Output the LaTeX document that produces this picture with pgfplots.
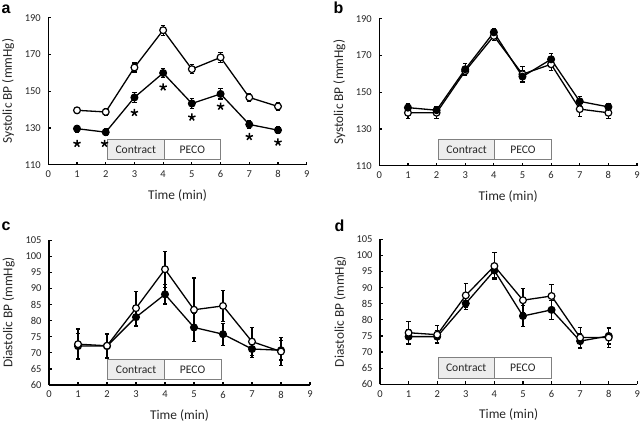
\documentclass[border=0pt]{standalone}
\usepackage{pgfplots}
\pgfplotsset{compat=1.18}
\usepackage{pgfplotstable}
\usepackage{fontspec}
\setmainfont{Carlito}
\setsansfont{Liberation Sans}
\usetikzlibrary{plotmarks}

\definecolor{boxgray}{HTML}{EDEDED}
\definecolor{edgegray}{HTML}{808080}
\definecolor{txt}{HTML}{262626}

% panel a: systolic, group 1
\pgfplotstableread{
x y e
1 139.6 1.6
2 138.7 1.6
3 162.9 2.5
4 183.2 2.7
5 162.0 2.4
6 168.4 2.8
7 146.6 2.3
8 141.7 2.0
}\aopen
\pgfplotstableread{
x y e
1 129.6 1.8
2 127.7 2.0
3 146.6 2.8
4 159.9 2.5
5 143.3 2.8
6 148.5 2.8
7 131.9 2.3
8 128.8 2.0
}\afill
\pgfplotstableread{
x y
1 121.5
1.96 121.5
3 138.3
4 152.2
5 135.8
6 141.7
7 125.2
8 122.2
}\astar
% panel b
\pgfplotstableread{
x y e
1 138.8 3.0
2 138.8 3.0
3 161.5 2.5
4 180.6 2.5
5 159.8 4.0
6 165.2 3.5
7 140.8 4.0
8 138.8 3.0
}\bopen
\pgfplotstableread{
x y e
1 141.6 2.0
2 140.2 2.0
3 162.5 3.0
4 182.6 2.0
5 158.5 3.0
6 167.9 3.0
7 145.0 2.5
8 142.0 2.0
}\bfill
% panel c
\pgfplotstableread{
x y e
1 72.7 4.7
2 72.2 3.9
3 83.9 5.3
4 96.0 5.6
5 83.4 9.9
6 84.6 4.9
7 73.5 4.3
8 70.4 4.4
}\copen
\pgfplotstableread{
x y e
1 72.1 4.0
2 72.1 3.5
3 81.1 3.0
4 88.2 3.0
5 77.9 4.4
6 75.8 3.4
7 71.2 2.6
8 70.8 3.0
}\cfill
% panel d
\pgfplotstableread{
x y e
1 76.0 3.4
2 75.4 2.8
3 87.6 3.6
4 96.7 4.2
5 86.1 3.7
6 87.4 3.6
7 74.5 3.1
8 74.5 3.0
}\dopen
\pgfplotstableread{
x y e
1 74.8 2.3
2 74.8 2.0
3 85.1 1.8
4 95.3 2.3
5 81.2 3.3
6 83.1 2.9
7 73.4 2.2
8 75.0 2.5
}\dfill

\tikzset{
  boxstyle/.style={draw=edgegray, line width=0.8pt},
  boxtext/.style={font=\fontsize{11.6}{13}\selectfont, text=txt},
}

\pgfplotsset{
  bp/.style={
    scale only axis,
    anchor=south west,
    axis x line*=bottom, axis y line*=left,
    axis line style={line width=1.5pt, black},
    tick align=inside,
    major tick length=3pt,
    tick style={line width=1.2pt, black},
    xmin=0, xmax=9, xtick={0,...,9},
    clip=false,
    /pgf/number format/assume math mode=true,
    tick label style={font=\fontsize{10.5}{12}\selectfont, text=txt},
    xticklabel style={yshift=-2.5pt},
    yticklabel style={xshift=-4pt},
    label style={font=\fontsize{13.4}{15}\selectfont, text=txt},
    xlabel={Time (min)},
    xlabel style={at={(axis description cs:0.5,-0.21)}, anchor=center},
    ylabel style={at={(axis description cs:-0.155,0.5)}, anchor=center},
  },
  openser/.style={black, line width=1.3pt, mark=*, mark size=3.4pt,
    mark options={fill=white, draw=black, line width=1.2pt},
    error bars/y dir=both, error bars/y explicit,
    error bars/error bar style={line width=1.2pt, black},
    error bars/error mark options={rotate=90, mark size=2.2pt, line width=1.2pt, black}},
  fillser/.style={black, line width=1.3pt, mark=*, mark size=3.4pt,
    mark options={fill=black, draw=black, line width=1.2pt},
    error bars/y dir=both, error bars/y explicit,
    error bars/error bar style={line width=1.2pt, black},
    error bars/error mark options={rotate=90, mark size=2.2pt, line width=1.2pt, black}},
}

\begin{document}
\begin{tikzpicture}
\useasboundingbox (0,0) rectangle (644pt,423pt);

% ---------- a ----------
\begin{axis}[bp, at={(48.3pt,258.3pt)}, width=258.4pt, height=147pt,
  ymin=110, ymax=190, ytick={110,130,...,190}, ylabel={Systolic BP (mmHg)}]
  \draw[boxstyle, fill=boxgray] (axis cs:2.06,112.9) rectangle (axis cs:4.03,123.8);
  \draw[boxstyle, fill=white] (axis cs:4.03,112.9) rectangle (axis cs:6.0,123.8);
  \node[boxtext] at (axis cs:3.045,118.35) {Contract};
  \node[boxtext] at (axis cs:5.015,118.35) {PECO};
  \addplot[fillser] table[x=x, y=y, y error=e] {\afill};
  \addplot[openser] table[x=x, y=y, y error=e] {\aopen};
  \addplot[only marks, mark=star, mark size=3.8pt, mark options={line width=1.5pt, black}] table[x=x, y=y] {\astar};
\end{axis}

% ---------- b ----------
\begin{axis}[bp, at={(379.3pt,257.3pt)}, width=257.7pt, height=147pt,
  ymin=110, ymax=190, ytick={110,130,...,190}, ylabel={Systolic BP (mmHg)}]
  \draw[boxstyle, fill=boxgray] (axis cs:2.07,113.4) rectangle (axis cs:4.03,124.3);
  \draw[boxstyle, fill=white] (axis cs:4.03,113.4) rectangle (axis cs:6.0,124.3);
  \node[boxtext] at (axis cs:3.05,118.85) {Contract};
  \node[boxtext] at (axis cs:5.015,118.85) {PECO};
  \addplot[openser] table[x=x, y=y, y error=e] {\bopen};
  \addplot[fillser] table[x=x, y=y, y error=e] {\bfill};
\end{axis}

% ---------- c ----------
\begin{axis}[bp, at={(49pt,38pt)}, width=261pt, height=144.7pt,
  ymin=60, ymax=105, ytick={60,65,...,105}, ylabel={Diastolic BP (mmHg)}]
  \draw[boxstyle, fill=boxgray] (axis cs:2.03,61.7) rectangle (axis cs:3.97,67.9);
  \draw[boxstyle, fill=white] (axis cs:3.97,61.7) rectangle (axis cs:5.93,67.9);
  \node[boxtext] at (axis cs:3.0,64.8) {Contract};
  \node[boxtext] at (axis cs:4.95,64.8) {PECO};
  \addplot[fillser] table[x=x, y=y, y error=e] {\cfill};
  \addplot[openser] table[x=x, y=y, y error=e] {\copen};
\end{axis}

% ---------- d ----------
\begin{axis}[bp, at={(380pt,38.7pt)}, width=257.3pt, height=145pt,
  ymin=60, ymax=105, ytick={60,65,...,105}, ylabel={Diastolic BP (mmHg)}]
  \draw[boxstyle, fill=boxgray] (axis cs:2.03,61.9) rectangle (axis cs:4.0,68.3);
  \draw[boxstyle, fill=white] (axis cs:4.0,61.9) rectangle (axis cs:5.99,68.3);
  \node[boxtext] at (axis cs:3.015,65.1) {Contract};
  \node[boxtext] at (axis cs:4.995,65.1) {PECO};
  \addplot[fillser] table[x=x, y=y, y error=e] {\dfill};
  \addplot[openser] table[x=x, y=y, y error=e] {\dopen};
\end{axis}

% panel letters
\node[anchor=base west, inner sep=0, font=\sffamily\bfseries\fontsize{16}{18}\selectfont] at (1.5pt,409.5pt) {a};
\node[anchor=base west, inner sep=0, font=\sffamily\bfseries\fontsize{16}{18}\selectfont] at (333.5pt,409.5pt) {b};
\node[anchor=base west, inner sep=0, font=\sffamily\bfseries\fontsize{16}{18}\selectfont] at (1.5pt,192pt) {c};
\node[anchor=base west, inner sep=0, font=\sffamily\bfseries\fontsize{16}{18}\selectfont] at (334.5pt,191.3pt) {d};
\end{tikzpicture}
\end{document}
